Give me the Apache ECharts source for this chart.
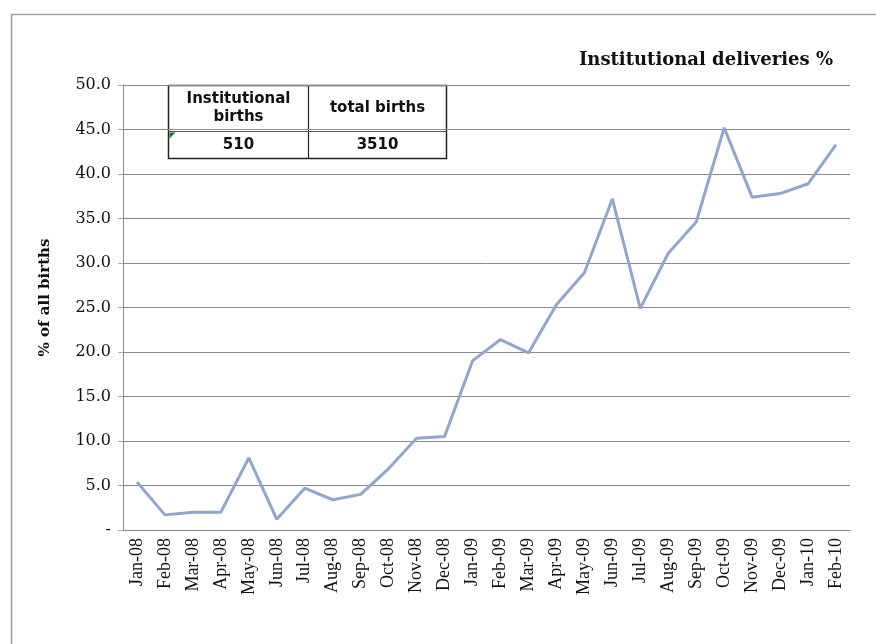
<!DOCTYPE html>
<html><head><meta charset="utf-8">
<script src="https://cdn.jsdelivr.net/npm/echarts@6/dist/echarts.min.js"></script>
<style>html,body{margin:0;padding:0;background:#fff}#c{width:876px;height:644px}</style>
</head><body><div id="c"></div>
<script>
const months = ['Jan-08','Feb-08','Mar-08','Apr-08','May-08','Jun-08','Jul-08','Aug-08','Sep-08','Oct-08','Nov-08','Dec-08','Jan-09','Feb-09','Mar-09','Apr-09','May-09','Jun-09','Jul-09','Aug-09','Sep-09','Oct-09','Nov-09','Dec-09','Jan-10','Feb-10'];
const pctValues = [5.4,1.7,2.0,2.0,8.1,1.2,4.7,3.4,4.0,6.9,10.3,10.5,19.0,21.4,19.9,25.3,28.9,37.2,24.9,31.1,34.6,45.2,37.4,37.8,38.9,43.3];
const tableHeaders = ['Institutional\nbirths','total births'];
const tableValues = ['510','3510'];
const chartTitle = 'Institutional deliveries %';
const yName = '% of all births';

const chart = echarts.init(document.getElementById('c'));
const tblFont = 'bold 15px "DejaVu Sans", "Liberation Sans", sans-serif';
chart.setOption({
  animation:false,
  backgroundColor:'#fff',
  title:{text:chartTitle,right:38,top:46,textStyle:{fontFamily:'"DejaVu Serif","Liberation Serif",serif',fontWeight:'bold',fontSize:18,color:'#111'}},
  grid:{left:123,right:26,top:85,bottom:114},
  xAxis:{type:'category',data:months,boundaryGap:true,
    axisLine:{lineStyle:{color:'#8a8a8a',width:1}},
    axisTick:{show:false},
    axisLabel:{rotate:90,interval:0,fontFamily:'"Liberation Serif","Times New Roman",serif',fontSize:18,color:'#111',margin:8}},
  yAxis:{type:'value',min:0,max:50,interval:5,
    name:yName,nameLocation:'middle',nameGap:70,nameRotate:90,
    nameTextStyle:{fontFamily:'"DejaVu Serif","Liberation Serif",serif',fontWeight:'bold',fontSize:15,color:'#111',padding:[0,0,0,20]},
    axisLine:{show:true,lineStyle:{color:'#8a8a8a',width:1}},
    axisTick:{show:true,length:5,lineStyle:{color:'#aaa'}},
    splitLine:{lineStyle:{color:'#8a8a8a',width:1}},
    axisLabel:{formatter:v=>v===0?'-':v.toFixed(1),fontFamily:'"DejaVu Serif","Liberation Serif",serif',fontSize:16,color:'#111',margin:12}},
  series:[{type:'line',data:pctValues,symbol:'none',lineStyle:{color:'#92a6cb',width:3},z:3}],
  graphic:[
    {type:'rect',left:9,top:12,shape:{width:900,height:700},style:{fill:'none',stroke:'#a0a0a0',lineWidth:1.5},silent:true,z:0},
    {type:'group',left:166,top:83,z:10,children:[
      {type:'rect',shape:{x:0,y:0,width:278,height:73},style:{fill:'#fff',stroke:'#222',lineWidth:1.5}},
      {type:'line',shape:{x1:140,y1:0,x2:140,y2:73},style:{stroke:'#222',lineWidth:1.2}},
      {type:'line',shape:{x1:0,y1:46,x2:278,y2:46},style:{stroke:'#555',lineWidth:1.2}},
      {type:'polygon',shape:{points:[[1,47],[7,47],[1,53]]},style:{fill:'#1a7a2a'}},
      {type:'text',style:{text:tableHeaders[0],x:70,y:23,align:'center',verticalAlign:'middle',font:tblFont,fill:'#111',lineHeight:18}},
      {type:'text',style:{text:tableHeaders[1],x:209,y:23,align:'center',verticalAlign:'middle',font:tblFont,fill:'#111'}},
      {type:'text',style:{text:tableValues[0],x:70,y:60,align:'center',verticalAlign:'middle',font:tblFont,fill:'#111'}},
      {type:'text',style:{text:tableValues[1],x:209,y:60,align:'center',verticalAlign:'middle',font:tblFont,fill:'#111'}}
    ]}
  ]
});
</script></body></html>
